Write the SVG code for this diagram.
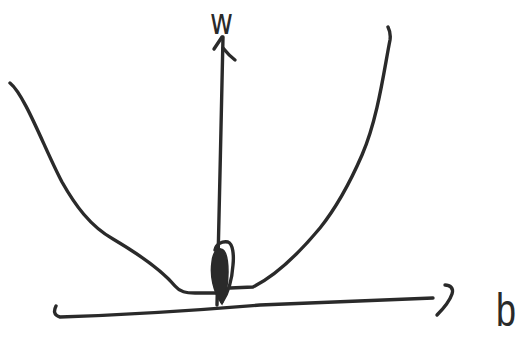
<svg xmlns="http://www.w3.org/2000/svg" width="522" height="340" viewBox="0 0 522 340">
  <style>
    .ink { fill: none; stroke: #2a2a2a; stroke-width: 3.4; stroke-linecap: round; stroke-linejoin: round; }
    .lbl { font-family: "DejaVu Sans", "Liberation Sans", sans-serif; fill: #2a2a2a; }
  </style>
  <rect width="522" height="340" fill="#ffffff"/>
  <g id="curve">
    <path class="ink" d="M10,83 C25,95 45,150 62,182 C75,205 90,226 113,239 C135,252 160,268 175,286 C180,292 186,293 195,293 L216,293"/>
    <path class="ink" d="M230,288 L253,287 C275,276 300,252 320,228 C340,203 352,178 362,155 C378,118 384,70 390,40 C391,33 389,29 388,27"/>
  </g>
  <g id="axes">
    <g id="w-axis">
      <path class="ink" d="M217,305 C219,230 221,120 223,37"/>
      <path class="ink" d="M214,49 L222,37 M223,48 C227,53 231,57 235,60"/>
    </g>
    <g id="b-axis">
      <path class="ink" d="M56,306 C54,310 53,315 60,317 C120,315 200,310 260,305 C330,302 390,300 433,298"/>
      <path class="ink" d="M445,285 C450,285 454,288 452,294 C449,303 442,310 437,315"/>
    </g>
  </g>
  <g id="minimum">
    <path class="ink" d="M215,250 C216,244 222,241 228,242 C233,244 234,255 233,265 C232,280 228,293 222,302"/>
    <path fill="#2a2a2a" stroke="#2a2a2a" stroke-width="1.5" d="M222,304 C213,292 210,275 212,262 C213,252 217,248 221,249 C226,250 228,260 228,272 C228,285 226,295 222,304 Z"/>
  </g>
  <g id="label-w">
    <text class="lbl" x="210" y="34" font-size="36" textLength="23" lengthAdjust="spacingAndGlyphs">w</text>
  </g>
  <g id="label-b">
    <text x="496" y="326" font-size="46" font-family="'Liberation Sans', sans-serif" fill="#2a2a2a" textLength="20" lengthAdjust="spacingAndGlyphs">b</text>
  </g>
</svg>
